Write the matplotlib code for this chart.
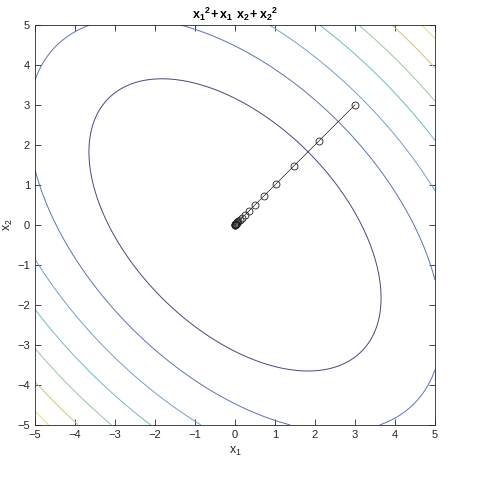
import numpy as np
import matplotlib
matplotlib.use("Agg")
import matplotlib.pyplot as plt

# contour levels of f = x1^2 + x1*x2 + x2^2 (MATLAB default picks 10:10:70)
levels = [10, 20, 30, 40, 50, 60, 70]
# washed-out parula-like colours, one per level
level_colors = ["#4b4680", "#5c72bd", "#6f9fcf", "#6dbac4", "#98c6a2", "#cfc283", "#ecdc80"]

# gradient descent path (x1 == x2 along the diagonal)
path_x1 = [3.0, 2.1, 1.47, 1.03, 0.72, 0.50, 0.35, 0.25, 0.17, 0.12, 0.085,
           0.06, 0.042, 0.029, 0.02, 0.014, 0.01, 0.007, 0.005, 0.0035]
path_x2 = [3.0, 2.1, 1.47, 1.03, 0.72, 0.50, 0.35, 0.25, 0.17, 0.12, 0.085,
           0.06, 0.042, 0.029, 0.02, 0.014, 0.01, 0.007, 0.005, 0.0035]

ticks = [-5, -4, -3, -2, -1, 0, 1, 2, 3, 4, 5]

plt.rcParams['font.family'] = ['Liberation Sans', 'DejaVu Sans']

g = np.linspace(-5, 5, 401)
X1, X2 = np.meshgrid(g, g)
F = X1**2 + X1 * X2 + X2**2

fig = plt.figure(figsize=(5.0, 4.97), dpi=100)
ax = fig.add_axes([0.07, 0.145, 0.8, 0.805])

ax.contour(X1, X2, F, levels=levels, colors=level_colors, linewidths=0.7)
ax.plot(path_x1, path_x2, color='#202020', linewidth=0.5, marker='o',
        markersize=5, markerfacecolor='none', markeredgewidth=0.6)

ax.set_xlim(-5, 5)
ax.set_ylim(-5, 5)
ax.set_xticks(ticks)
ax.set_yticks(ticks)
ax.tick_params(direction='in', top=True, right=True, labelsize=8,
               colors='#262626', length=4, width=0.6)
for s in ax.spines.values():
    s.set_color('#262626')
    s.set_linewidth(0.6)

ax.set_xlabel('$\\mathregular{x_1}$', fontsize=9, color='#262626')
ax.set_ylabel('$\\mathregular{x_2}$', fontsize=9, color='#262626', labelpad=2)
ax.set_title('$\\mathregular{x_1{}^2\\!+x_1\\ x_2{}^{}\\!+x_2{}^2}$', fontsize=9,
             fontweight='bold', color='black', pad=4)

fig.savefig('out.png', dpi=100)
